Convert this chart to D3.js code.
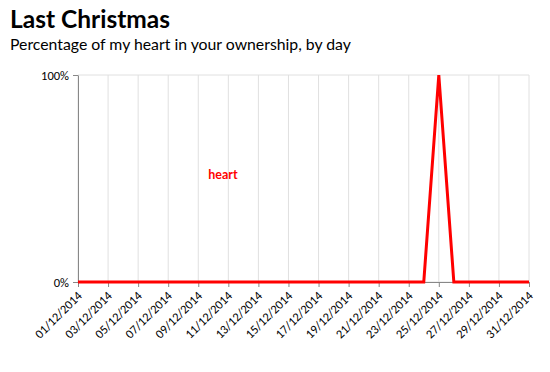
<!DOCTYPE html>
<html><head><meta charset="utf-8">
<script src="https://cdn.jsdelivr.net/npm/d3@7"></script>
<style>
body{margin:0;background:#fff;}
svg{display:block;}
</style></head>
<body>
<svg id="chart" width="550" height="372"></svg>
<script>
const days = d3.range(1, 32).map(d => new Date(2014, 11, d));
const heartValues = [0,0,0,0,0,0,0,0,0,0,0,0,0,0,0,0,0,0,0,0,0,0,0,0,100,0,0,0,0,0,0];
const yTicks = [0, 100];
const seriesName = "heart";

const svg = d3.select("#chart");
const margin = {left: 78, right: 21, top: 75, bottom: 90};
const W = 550, H = 372;
const x = d3.scaleTime().domain([days[0], days[days.length-1]]).range([margin.left, W - margin.right]);
const y = d3.scaleLinear().domain([0, 100]).range([H - margin.bottom, margin.top]);
const fmt = d3.timeFormat("%d/%m/%Y");
const tickDays = days.filter((d, i) => i % 2 === 0);

svg.append("text").attr("x", 10).attr("y", 28).text("Last Christmas")
  .style("font-family", "Lato, 'Noto Sans', sans-serif").style("font-weight", "bold").style("font-size", "24.5px").attr("fill", "#000");
svg.append("text").attr("x", 10).attr("y", 50).text("Percentage of my heart in your ownership, by day")
  .style("font-family", "Lato, 'Noto Sans', sans-serif").style("font-size", "15.8px").attr("fill", "#000");

// grid
svg.append("g").selectAll("line").data(tickDays).join("line")
  .attr("x1", d => x(d)).attr("x2", d => x(d)).attr("y1", y(100)).attr("y2", y(0))
  .attr("stroke", "#e0e0e0").attr("stroke-width", 1);
svg.append("g").selectAll("line").data(yTicks).join("line")
  .attr("x1", margin.left).attr("x2", W - margin.right).attr("y1", d => y(d)).attr("y2", d => y(d))
  .attr("stroke", "#e0e0e0").attr("stroke-width", 1);

const fontAxis = "Carlito, 'Liberation Sans', 'DejaVu Sans', sans-serif";
// x axis
const gx = svg.append("g").attr("transform", `translate(0,${y(0)})`)
  .call(d3.axisBottom(x).tickValues(tickDays).tickFormat(fmt).tickSize(5).tickSizeOuter(0));
gx.select(".domain").attr("stroke", "#888");
gx.selectAll(".tick line").attr("stroke", "#888");
gx.selectAll("text").style("font-family", fontAxis).style("font-size", "12.5px").attr("fill", "#000")
  .attr("text-anchor", "end").attr("dy", "0.35em").attr("dx", "-0.2em")
  .attr("transform", "translate(0,4) rotate(-45)").attr("y", 6).attr("x", -2);

// y axis
const gy = svg.append("g").attr("transform", `translate(${margin.left},0)`)
  .call(d3.axisLeft(y).tickValues(yTicks).tickFormat(d => d + "%").tickSize(5).tickSizeOuter(0));
gy.select(".domain").attr("stroke", "#888");
gy.selectAll(".tick line").attr("stroke", "#888");
gy.selectAll("text").style("font-family", fontAxis).style("font-size", "12.5px").attr("fill", "#000").attr("x", -9);

// line
const line = d3.line().x((d, i) => x(days[i])).y(d => y(d));
svg.append("path").datum(heartValues).attr("d", line)
  .attr("fill", "none").attr("stroke", "#ff0000").attr("stroke-width", 3).attr("stroke-linejoin", "miter");

// label
svg.append("text").attr("x", x(new Date(2014, 11, 9, 16))).attr("y", y(52)).attr("dy", "0.35em")
  .text(seriesName).attr("fill", "#ff0000")
  .style("font-family", "Lato, 'Noto Sans', sans-serif").style("font-weight", "bold").style("font-size", "12.5px");
</script>
</body></html>
